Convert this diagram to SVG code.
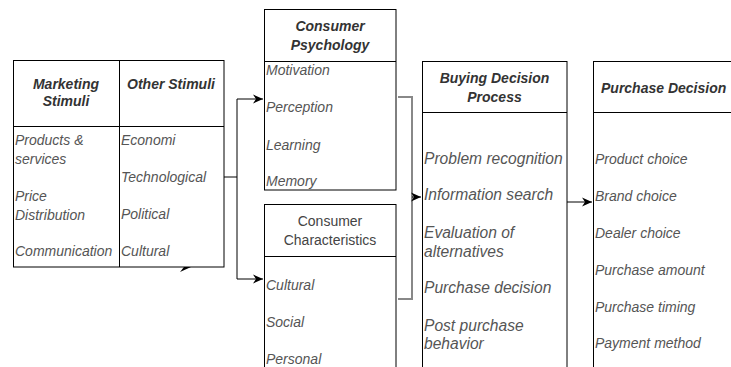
<svg xmlns="http://www.w3.org/2000/svg" width="731" height="367" viewBox="0 0 731 367">
<style>
.box{fill:#fff;stroke:#000;stroke-width:1}
.sep{stroke:#000;stroke-width:1;fill:none}
.t{font-family:"Liberation Sans",Arial,sans-serif;font-size:14px;font-weight:bold;font-style:italic;fill:#333;text-anchor:middle}
.tn{font-family:"Liberation Sans",Arial,sans-serif;font-size:14px;fill:#444;text-anchor:middle}
.i{font-family:"Liberation Sans",Arial,sans-serif;font-size:14px;font-style:italic;fill:#555}
.i16{font-family:"Liberation Sans",Arial,sans-serif;font-size:15.6px;font-style:italic;fill:#555}
.c{stroke:#000;stroke-width:1;fill:none}
.g{stroke:#888;stroke-width:2;fill:none}
</style>
<defs>
<marker id="arr" markerUnits="userSpaceOnUse" markerWidth="12" markerHeight="10" refX="10" refY="5" orient="auto">
<path d="M0,0.5 L10,5 L0,9.5 L3,5 Z" fill="#000"/>
</marker>
</defs>
<g id="connectors">
<polyline class="c" points="224,177 237,177 237,99 263,99" marker-end="url(#arr)"/>
<polyline class="c" points="237,177 237,279 263,279" marker-end="url(#arr)"/>
<polyline class="g" points="398,97 412,97 412,299 398,299"/>
<line class="c" x1="412" y1="197" x2="421" y2="197" marker-end="url(#arr)"/>
<line class="c" x1="567" y1="202" x2="592" y2="202" marker-end="url(#arr)"/>
<polygon points="180,272 191,267 184,267" fill="#000"/>
</g>
<g id="stimuli">
<rect class="box" x="13.5" y="60.5" width="210.5" height="206.5"/>
<line class="sep" x1="119.5" y1="60.5" x2="119.5" y2="267"/>
<line class="sep" x1="13.5" y1="126.5" x2="224" y2="126.5"/>
<text class="t" x="66" y="89">Marketing</text>
<text class="t" x="66" y="106">Stimuli</text>
<text class="t" x="171" y="89">Other Stimuli</text>
<text class="i" x="15" y="145">Products &amp;</text>
<text class="i" x="15" y="164">services</text>
<text class="i" x="15" y="201">Price</text>
<text class="i" x="15" y="220">Distribution</text>
<text class="i" x="15" y="256">Communication</text>
<text class="i" x="121" y="145">Economi</text>
<text class="i" x="121" y="182">Technological</text>
<text class="i" x="121" y="219">Political</text>
<text class="i" x="121" y="256">Cultural</text>
</g>
<g id="psychology">
<rect class="box" x="264.5" y="9.5" width="131.5" height="180.5"/>
<line class="sep" x1="264.5" y1="61.5" x2="396" y2="61.5"/>
<text class="t" x="330" y="31">Consumer</text>
<text class="t" x="330" y="50">Psychology</text>
<text class="i" x="266" y="75">Motivation</text>
<text class="i" x="266" y="112">Perception</text>
<text class="i" x="266" y="150">Learning</text>
<text class="i" x="266" y="186">Memory</text>
</g>
<g id="characteristics">
<rect class="box" x="264.5" y="204.5" width="131.5" height="180"/>
<line class="sep" x1="264.5" y1="256.5" x2="396" y2="256.5"/>
<text class="tn" x="330" y="226">Consumer</text>
<text class="tn" x="330" y="245">Characteristics</text>
<text class="i" x="266" y="290">Cultural</text>
<text class="i" x="266" y="327">Social</text>
<text class="i" x="266" y="364">Personal</text>
</g>
<g id="buying">
<rect class="box" x="422.5" y="61.5" width="144.5" height="320"/>
<line class="sep" x1="422.5" y1="112.5" x2="567" y2="112.5"/>
<text class="t" x="494.5" y="83">Buying Decision</text>
<text class="t" x="494.5" y="102">Process</text>
<text class="i16" x="424" y="164">Problem recognition</text>
<text class="i16" x="424" y="200">Information search</text>
<text class="i16" x="424" y="238">Evaluation of</text>
<text class="i16" x="424" y="257">alternatives</text>
<text class="i16" x="424" y="293">Purchase decision</text>
<text class="i16" x="424" y="331">Post purchase</text>
<text class="i16" x="424" y="349">behavior</text>
</g>
<g id="purchase">
<rect class="box" x="593.5" y="61.5" width="147" height="320"/>
<line class="sep" x1="593.5" y1="112.5" x2="740" y2="112.5"/>
<text class="t" x="601" y="93" style="text-anchor:start">Purchase Decision</text>
<text class="i" x="595" y="164">Product choice</text>
<text class="i" x="595" y="201">Brand choice</text>
<text class="i" x="595" y="238">Dealer choice</text>
<text class="i" x="595" y="275">Purchase amount</text>
<text class="i" x="595" y="312">Purchase timing</text>
<text class="i" x="595" y="348">Payment method</text>
</g>
</svg>
